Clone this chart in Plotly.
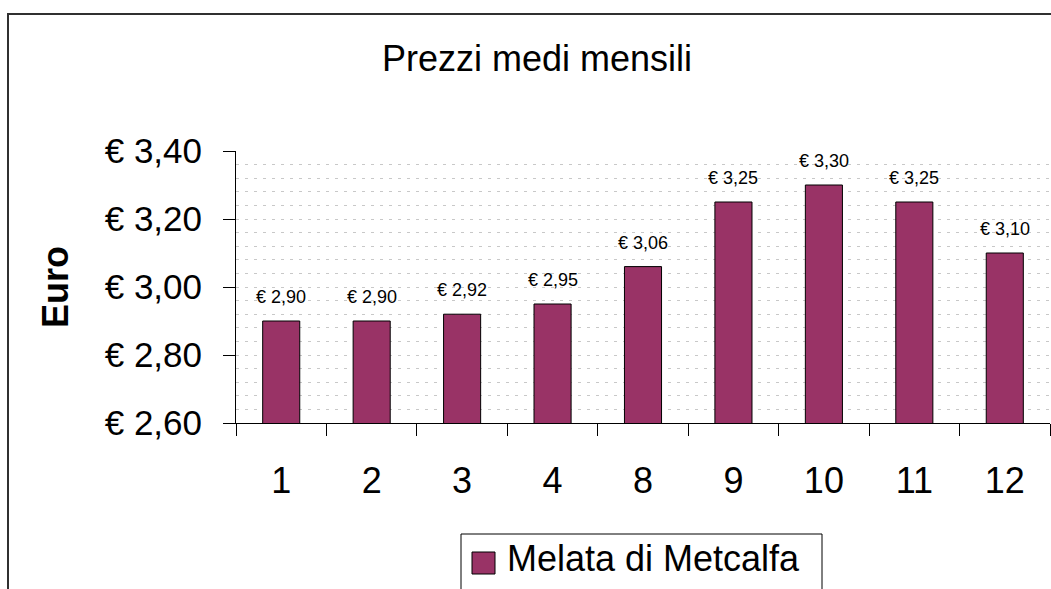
import plotly.graph_objects as go

# data
months = ["1", "2", "3", "4", "8", "9", "10", "11", "12"]
prices = [2.90, 2.90, 2.92, 2.95, 3.06, 3.25, 3.30, 3.25, 3.10]
series_name = "Melata di Metcalfa"
y_ticks = [2.60, 2.80, 3.00, 3.20, 3.40]

BAR_COLOR = "#993366"
FONT = "Liberation Sans, Arial, sans-serif"

W, H = 1051, 589
# plot area in pixels
L, R, T, B = 236, 1050, 151, 423


def px(x):
    return (x - L) / (R - L)


def py(y):
    return (B - y) / (B - T)


def euro(v):
    return "€ " + f"{v:.2f}".replace(".", ",")


fig = go.Figure()

fig.add_trace(
    go.Bar(
        x=months,
        y=prices,
        name=series_name,
        marker=dict(color=BAR_COLOR, line=dict(color="#000000", width=1)),
        showlegend=False,
    )
)

# value labels above the bars (category axis -> use category position)
for i, p in enumerate(prices):
    fig.add_annotation(
        x=i, y=p, text=euro(p), showarrow=False,
        yanchor="middle", yshift=24,
        font=dict(family=FONT, size=18, color="#000000"),
    )

# y axis title
fig.add_annotation(
    xref="paper", yref="paper", x=px(55), y=py(287),
    text="<b>Euro</b>", textangle=-90, showarrow=False,
    xanchor="center", yanchor="middle",
    font=dict(family=FONT, size=36, color="#000000"),
)

# legend drawn by hand so the swatch matches the big font
fig.add_shape(
    type="rect", xref="paper", yref="paper",
    x0=px(461), x1=px(822), y0=py(620), y1=py(534),
    line=dict(color="#000000", width=1), fillcolor="#ffffff", layer="above",
)
fig.add_shape(
    type="rect", xref="paper", yref="paper",
    x0=px(472), x1=px(495), y0=py(574), y1=py(552),
    line=dict(color="#000000", width=1), fillcolor=BAR_COLOR, layer="above",
)
fig.add_annotation(
    xref="paper", yref="paper", x=px(505), y=py(558),
    text=series_name, showarrow=False, xanchor="left", yanchor="middle",
    font=dict(family=FONT, size=36, color="#000000"),
)

# outer chart border (right/bottom edges fall outside the picture)
fig.add_shape(
    type="rect", xref="paper", yref="paper",
    x0=px(8), x1=px(1080), y0=py(620), y1=py(14),
    line=dict(color="#303030", width=2), layer="above",
)

fig.update_layout(
    width=W, height=H,
    margin=dict(l=L, r=W - R, t=T, b=H - B),
    paper_bgcolor="#ffffff", plot_bgcolor="#ffffff",
    separators=",.",
    bargap=0.59,
    font=dict(family=FONT, color="#000000"),
    title=dict(
        text="Prezzi medi mensili", x=537 / W, xanchor="center",
        y=1 - 58 / H, yanchor="middle", xref="container", yref="container",
        font=dict(family=FONT, size=36, color="#000000"),
    ),
    showlegend=False,
)

fig.update_xaxes(
    type="category",
    showline=True, linecolor="#000000", linewidth=1,
    ticks="outside", tickson="boundaries", ticklen=12, tickcolor="#000000",
    tickfont=dict(family=FONT, size=36, color="#000000"),
    ticklabelstandoff=26,
    showgrid=False,
)

fig.update_yaxes(
    range=[2.6, 3.4],
    tickvals=y_ticks,
    ticktext=[euro(v) for v in y_ticks],
    showline=True, linecolor="#000000", linewidth=1,
    ticks="outside", ticklen=12, tickcolor="#000000",
    tickfont=dict(family=FONT, size=35, color="#000000"),
    ticklabelstandoff=14,
    showgrid=True, gridcolor="#c8c8c8", gridwidth=1, griddash="3px,6px",
    minor=dict(dtick=0.04, tick0=2.6, showgrid=True, gridcolor="#c8c8c8",
               gridwidth=1, griddash="3px,6px"),
    zeroline=False,
)

# the browser's default 8px body margin would shift the whole chart
fig.write_html(
    "out.html",
    config={"displayModeBar": False},
    post_script="document.body.style.margin='0';",
)
